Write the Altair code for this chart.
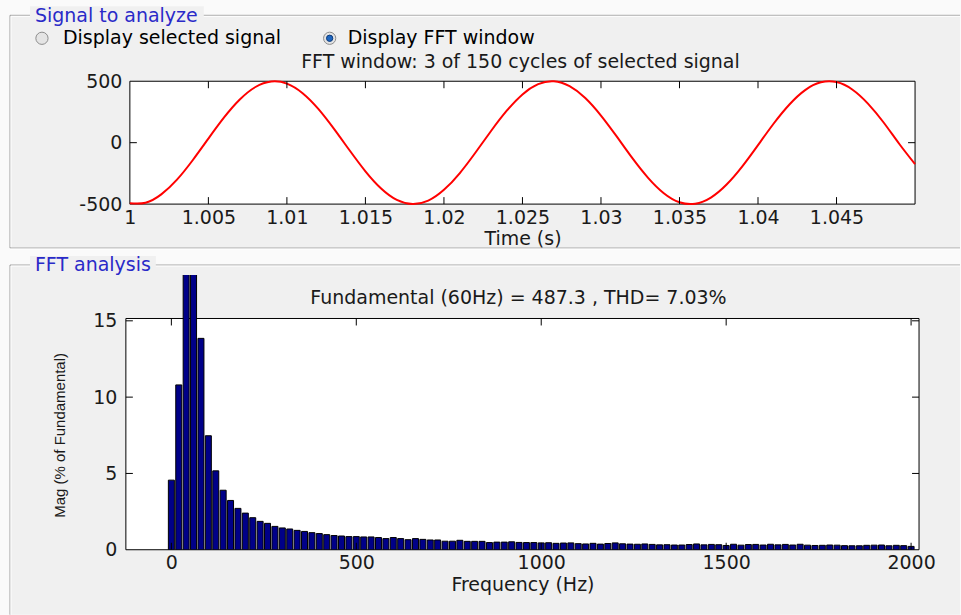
import altair as alt
import pandas as pd

# ---------------- data ----------------
time_s = [round(1 + 0.001 * i, 3) for i in range(51)]
signal = [-493, -489, -421, -301, -143, 33, 205, 351, 453, 498,
          481, 403, 275, 112, -64, -233, -373, -466, -500, -472,
          -384, -249, -82, 95, 260, 393, 476, 500, 460, 364,
          221, 51, -126, -286, -411, -485, -497, -447, -341, -193,
          -20, 156, 311, 428, 491, 493, 433, 318, 164, -11,
          -175]
time_ticks = [1, 1.005, 1.01, 1.015, 1.02, 1.025, 1.03, 1.035, 1.04, 1.045]
signal_ticks = [-500, 0, 500]

freq_hz = list(range(0, 2001, 20))
magnitude = [4.56, 10.8, 21.5, 100.0, 13.85, 7.47, 5.17, 3.9, 3.23, 2.71,
             2.4, 2.1, 1.86, 1.73, 1.53, 1.43, 1.36, 1.27, 1.2, 1.12,
             1.06, 0.99, 0.93, 0.9, 0.86, 0.86, 0.84, 0.84, 0.8, 0.73,
             0.8, 0.73, 0.66, 0.73, 0.68, 0.64, 0.64, 0.56, 0.56, 0.62,
             0.55, 0.55, 0.55, 0.47, 0.5, 0.5, 0.52, 0.48, 0.47, 0.47,
             0.45, 0.46, 0.42, 0.44, 0.45, 0.40, 0.38, 0.42, 0.37, 0.41,
             0.45, 0.39, 0.37, 0.36, 0.38, 0.35, 0.32, 0.33, 0.31, 0.31,
             0.34, 0.38, 0.32, 0.35, 0.33, 0.28, 0.36, 0.30, 0.34, 0.35,
             0.31, 0.36, 0.32, 0.35, 0.31, 0.36, 0.30, 0.28, 0.29, 0.31,
             0.30, 0.27, 0.26, 0.26, 0.29, 0.30, 0.31, 0.26, 0.29, 0.27,
             0.22]
freq_ticks = [0, 500, 1000, 1500, 2000]
mag_ticks = [0, 5, 10, 15]

top_title = "FFT window: 3 of 150 cycles of selected signal"
bottom_title = "Fundamental (60Hz) = 487.3 , THD= 7.03%"

# ---------------- helpers ----------------
FONT = "DejaVu Sans"
FS = 19
TXT = "#1a1a1a"
PANEL = "#f0f0f0"
EDGE = "#a0a0a0"
BLUE = "#2a2ac8"
dummy = pd.DataFrame({"d": [0]})


def rect(x1, x2, y1, y2, **kw):
    return alt.Chart(dummy).mark_rect(**kw).encode(
        x=alt.value(x1), x2=alt.value(x2), y=alt.value(y1), y2=alt.value(y2))


def hline(x1, x2, y, color):
    return alt.Chart(dummy).mark_rule(color=color, strokeWidth=1).encode(
        x=alt.value(x1), x2=alt.value(x2), y=alt.value(y))


def vline(x, y1, y2, color):
    return alt.Chart(dummy).mark_rule(color=color, strokeWidth=1).encode(
        x=alt.value(x), y=alt.value(y1), y2=alt.value(y2))


def label(txt, x, y, **kw):
    opts = dict(font=FONT, fontSize=FS, color=TXT, baseline="middle", align="left")
    opts.update(kw)
    return alt.Chart(dummy).mark_text(text=txt, **opts).encode(
        x=alt.value(x), y=alt.value(y))


def dot(x, y, size, fill, stroke):
    return alt.Chart(dummy).mark_circle(size=size, fill=fill, stroke=stroke,
                                        strokeWidth=1, opacity=1).encode(
        x=alt.value(x), y=alt.value(y))


# ---------------- top panel ----------------
WT, HT = 786, 123          # plot area at (130, 81)
OX, OY = 130, 81

sig_df = pd.DataFrame({"t": time_s, "v": signal})
xt = alt.X("t:Q", scale=alt.Scale(domain=[1, 1.05], nice=False, zero=False),
           axis=alt.Axis(values=time_ticks, labelExpr="'' + datum.value",
                         title="Time (s)", domain=False, ticks=False, tickSize=0,
                         grid=False, labelPadding=4, labelFlush=False,
                         labelOverlap=False, titleY=34, titleBaseline="middle",
                         zindex=2))
yt = alt.Y("v:Q", scale=alt.Scale(domain=[-500, 500], nice=False),
           axis=alt.Axis(values=signal_ticks, labelExpr="'' + datum.value",
                         title=None, domain=False, ticks=False, tickSize=0,
                         grid=False, labelPadding=8, zindex=2))

decor = [
    rect(-OX, 961 - OX, -OY, 615 - OY, fill="#fafafa"),
    rect(10 - OX, 961 - OX, 15 - OY, 248 - OY, fill=PANEL),
    rect(10 - OX, 961 - OX, 265 - OY, 615 - OY, fill=PANEL),
    hline(10 - OX, 961 - OX, 15 - OY, EDGE),
    hline(11 - OX, 961 - OX, 16 - OY, "white"),
    vline(10 - OX, 15 - OY, 248 - OY, EDGE),
    vline(11 - OX, 16 - OY, 247 - OY, "white"),
    hline(10 - OX, 961 - OX, 248 - OY, EDGE),
    hline(10 - OX, 961 - OX, 249 - OY, "white"),
    hline(10 - OX, 961 - OX, 265 - OY, EDGE),
    hline(11 - OX, 961 - OX, 266 - OY, "white"),
    vline(10 - OX, 265 - OY, 615 - OY, EDGE),
    vline(11 - OX, 266 - OY, 615 - OY, "white"),
    rect(30 - OX, 204 - OX, 6 - OY, 25 - OY, fill=PANEL),
    rect(30 - OX, 156 - OX, 256 - OY, 275 - OY, fill=PANEL),
    label("Signal to analyze", 35 - OX, 16 - OY, color=BLUE),
    label("FFT analysis", 35 - OX, 265 - OY, color=BLUE),
    dot(42 - OX, 38 - OY, 150, "#e4e4e4", "#8c8c8c"),
    label("Display selected signal", 63 - OX, 38 - OY, color="black"),
    dot(330 - OX, 38 - OY, 150, "#e4e4e4", "#8c8c8c"),
    dot(330 - OX, 38 - OY, 40, "#1e66c0", "#0d3a78"),
    label("Display FFT window", 348 - OX, 38 - OY, color="black"),
    label(top_title, WT / 2 - 2, 62 - OY, align="center"),
    rect(0, WT, 0, HT, fill="white", stroke="black", strokeWidth=1),
]

sig_line = alt.Chart(sig_df).mark_line(color="#ff0000", strokeWidth=2,
                                       interpolate="natural").encode(x=xt, y=yt)

tx_df = pd.DataFrame({"t": time_ticks[1:]})
ty_df = pd.DataFrame({"v": [0]})
top_ticks_layers = [
    alt.Chart(tx_df).mark_rule(color="black").encode(x=xt, y=alt.value(HT), y2=alt.value(HT - 7)),
    alt.Chart(tx_df).mark_rule(color="black").encode(x=xt, y=alt.value(0), y2=alt.value(7)),
    alt.Chart(ty_df).mark_rule(color="black").encode(y=yt, x=alt.value(0), x2=alt.value(7)),
    alt.Chart(ty_df).mark_rule(color="black").encode(y=yt, x=alt.value(WT), x2=alt.value(WT - 7)),
]

top = alt.layer(*decor, sig_line, *top_ticks_layers).properties(width=WT, height=HT)

# ---------------- bottom panel ----------------
WB, HB = 794, 275          # plot area at (126, 275); frame top at y=318.5
FRAME_TOP = 43.5

bar_df = pd.DataFrame({"f": freq_hz, "m": magnitude})
xb = alt.X("f:Q", scale=alt.Scale(domain=[-109.5, 2008], nice=False, zero=False),
           axis=alt.Axis(values=freq_ticks, format="d", title="Frequency (Hz)",
                         domain=False, ticks=False, tickSize=0, grid=False,
                         labelPadding=4, labelFlush=False, labelOverlap=False,
                         titleY=35, titleBaseline="middle", zindex=2))
yb = alt.Y("m:Q", scale=alt.Scale(domain=[0, 18], nice=False),
           axis=alt.Axis(values=mag_ticks, title="Mag (% of Fundamental)",
                         domain=False, ticks=False, tickSize=0, grid=False,
                         labelPadding=9, titleX=-66, titleY=160, titleAngle=270,
                         titleBaseline="middle", titleAlign="center",
                         titleFont="Liberation Sans", titleFontSize=15, zindex=2))

frame_b = rect(0, WB, FRAME_TOP, HB, fill="white", stroke="black", strokeWidth=1)
bars = alt.Chart(bar_df).mark_bar(size=6, fill="#000088", stroke="black",
                                  strokeWidth=1, clip=True).encode(x=xb, y=yb)
bx_df = pd.DataFrame({"f": freq_ticks})
by_df = pd.DataFrame({"m": mag_ticks[1:]})
bot_ticks_layers = [
    alt.Chart(bx_df).mark_rule(color="black").encode(x=xb, y=alt.value(HB), y2=alt.value(HB - 7)),
    alt.Chart(bx_df).mark_rule(color="black").encode(x=xb, y=alt.value(FRAME_TOP), y2=alt.value(FRAME_TOP + 7)),
    alt.Chart(by_df).mark_rule(color="black").encode(y=yb, x=alt.value(0), x2=alt.value(7)),
    alt.Chart(by_df).mark_rule(color="black").encode(y=yb, x=alt.value(WB), x2=alt.value(WB - 7)),
]
btitle = label(bottom_title, 393, 23, align="center")

bottom = alt.layer(frame_b, bars, *bot_ticks_layers, btitle).properties(width=WB, height=HB)

chart = alt.vconcat(top, bottom, spacing=71, center=True, bounds="flush").properties(
    background="#fafafa", padding=0
).configure(font=FONT).configure_view(stroke=None).configure_axis(
    labelFont=FONT, labelFontSize=FS, labelColor=TXT,
    titleFont=FONT, titleFontSize=FS, titleColor=TXT, titleFontWeight="normal"
)

chart.save("out.html", embed_options={"renderer": "svg", "actions": False})
